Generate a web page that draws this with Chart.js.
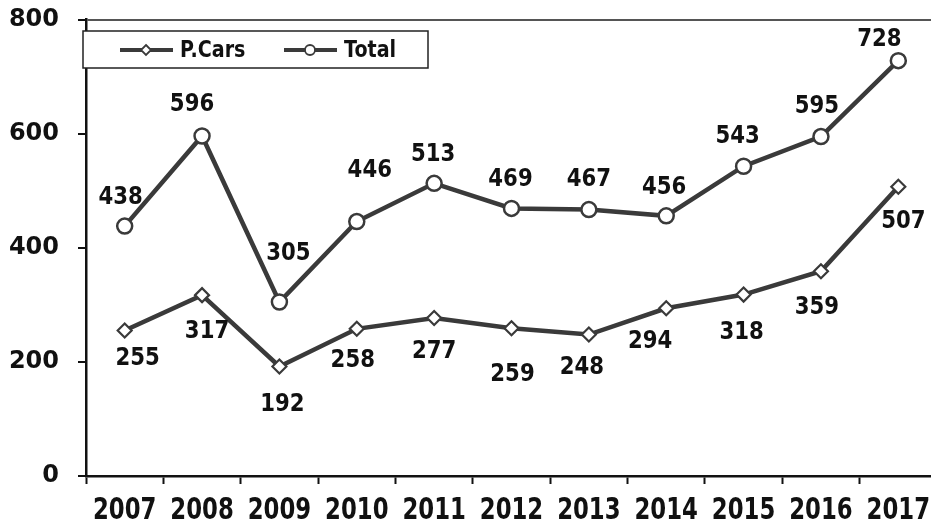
<!DOCTYPE html>
<html>
<head>
<meta charset="utf-8">
<script src="https://cdn.jsdelivr.net/npm/chart.js@4.4.1/dist/chart.umd.min.js"></script>
<style>
  html, body { margin: 0; padding: 0; background: #fff; overflow: hidden; }
  #wrap { width: 938px; height: 530px; }
</style>
</head>
<body>
<div id="wrap"><canvas id="carsChart" width="938" height="530"></canvas></div>
<script>
const years = ["2007", "2008", "2009", "2010", "2011", "2012", "2013", "2014", "2015", "2016", "2017"];
const pCars = [255, 317, 192, 258, 277, 259, 248, 294, 318, 359, 507];
const total = [438, 596, 305, 446, 513, 469, 467, 456, 543, 595, 728];
const yTicks = [0, 200, 400, 600, 800];

// where each value label sits relative to its point (px)
const totalLabelShift = [[-4, -30], [-10, -32], [9, -49], [13, -52], [-1, -30], [-1, -30], [0, -31], [-2, -29], [-6, -31], [-4, -31], [-19, -22]];
const carsLabelShift = [[13, 27], [5, 35], [3, 37], [-4, 31], [0, 33], [1, 45], [-7, 32], [-16, 32], [-2, 37], [-4, 35], [5, 34]];

const FONT = "'DejaVu Sans', Verdana, sans-serif";
const LINE = "#3a3a3a";

// text in the original is a bit narrower than DejaVu, squeeze it
function squeezedText(c, txt, x, y, sx, align) {
  c.save();
  c.translate(x, y);
  c.scale(sx, 1);
  c.textAlign = align || "center";
  c.fillText(txt, 0, 0);
  c.restore();
}

const valueLabels = {
  id: "valueLabels",
  afterDatasetsDraw(chart) {
    const c = chart.ctx;
    c.save();
    c.font = "bold 25px " + FONT;
    c.fillStyle = "#111";
    c.textBaseline = "middle";
    chart.data.datasets.forEach((ds, i) => {
      const shifts = i === 0 ? carsLabelShift : totalLabelShift;
      chart.getDatasetMeta(i).data.forEach((pt, j) => {
        squeezedText(c, String(ds.data[j]), pt.x + shifts[j][0], pt.y + shifts[j][1] + 1, 0.85);
      });
    });
    // year labels under the x axis
    const xs = chart.scales.x;
    c.font = "bold 30px " + FONT;
    years.forEach((yr, j) => {
      squeezedText(c, yr, xs.getPixelForValue(j), 511, 0.76);
    });
    c.restore();
  }
};

// boxed legend inside the plot, like the original
const boxLegend = {
  id: "boxLegend",
  afterDraw(chart) {
    const c = chart.ctx;
    c.save();
    c.fillStyle = "#fff";
    c.fillRect(83, 31, 345, 37);
    c.strokeStyle = "#222";
    c.lineWidth = 1.5;
    c.strokeRect(83, 31, 345, 37);
    const starts = [120, 284];
    chart.data.datasets.forEach((ds, i) => {
      const x0 = starts[i], y = 50;
      c.strokeStyle = ds.borderColor;
      c.lineWidth = 4;
      c.beginPath();
      c.moveTo(x0, y);
      c.lineTo(x0 + 53, y);
      c.stroke();
      c.fillStyle = "#fff";
      c.lineWidth = 1.8;
      c.beginPath();
      if (ds.pointStyle === "rectRot") {
        c.moveTo(x0 + 26, y - 5); c.lineTo(x0 + 31, y); c.lineTo(x0 + 26, y + 5); c.lineTo(x0 + 21, y);
        c.closePath();
      } else {
        c.arc(x0 + 26, y, 5, 0, Math.PI * 2);
      }
      c.fill();
      c.stroke();
      c.fillStyle = "#111";
      c.font = "bold 23px " + FONT;
      c.textBaseline = "middle";
      squeezedText(c, ds.label, x0 + 60, y + 1, 0.83, "left");
    });
    c.restore();
  }
};

const ctx = document.getElementById("carsChart").getContext("2d");
new Chart(ctx, {
  type: "line",
  data: {
    labels: years,
    datasets: [
      {
        label: "P.Cars",
        data: pCars,
        borderColor: LINE,
        borderWidth: 4.5,
        pointStyle: "rectRot",
        pointRadius: 7,
        pointBorderWidth: 2.2,
        pointBackgroundColor: "#fff",
        pointBorderColor: LINE,
        tension: 0
      },
      {
        label: "Total",
        data: total,
        borderColor: LINE,
        borderWidth: 4.5,
        pointStyle: "circle",
        pointRadius: 7.5,
        pointBorderWidth: 2.5,
        pointBackgroundColor: "#fff",
        pointBorderColor: LINE,
        tension: 0
      }
    ]
  },
  options: {
    responsive: false,
    animation: false,
    layout: { autoPadding: false, padding: { top: 19, right: 1, left: 0, bottom: 0 } },
    plugins: {
      legend: { display: false },
      tooltip: { enabled: false }
    },
    scales: {
      x: {
        offset: true,
        grid: { offset: true, drawOnChartArea: false, drawTicks: true, tickLength: 8, tickColor: "#111", tickWidth: 2 },
        border: { color: "#111", width: 2.5 },
        ticks: { display: false },
        afterFit(scale) { scale.height = 54; }
      },
      y: {
        min: 0,
        max: 800,
        afterBuildTicks(scale) { scale.ticks = yTicks.map(v => ({ value: v })); },
        grid: {
          color: c => (c.tick && c.tick.value === 800 ? "#555" : "transparent"),
          lineWidth: 2,
          tickLength: 8,
          tickColor: "#111",
          tickWidth: 2
        },
        border: { color: "#111", width: 2.5 },
        // tiny lineHeight keeps the labels from pushing the plot down
        ticks: { color: "#111", font: { family: FONT, weight: "bold", size: 24, lineHeight: 0.05 }, padding: 19 },
        afterFit(scale) { scale.width = 86; }
      }
    }
  },
  plugins: [valueLabels, boxLegend]
});
</script>
</body>
</html>
